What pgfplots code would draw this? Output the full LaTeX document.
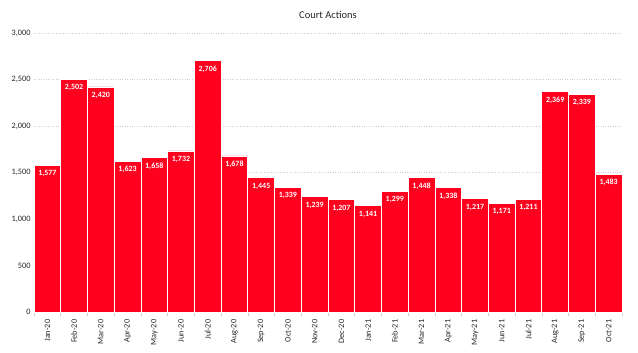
\documentclass[border=0pt]{standalone}
\usepackage{pgfplots}
\pgfplotsset{compat=1.18}
\usepackage{fontspec}
\setmainfont{Carlito}
\definecolor{barred}{RGB}{255,0,30}
\definecolor{gridc}{RGB}{205,205,205}
\begin{document}
\begin{tikzpicture}[x=1bp,y=1bp]
\path[use as bounding box] (0,0) rectangle (638,352);
\begin{axis}[
  at={(34bp,40bp)}, anchor=south west,
  scale only axis, width=588bp, height=279bp,
  xmin=-0.5, xmax=21.5, ymin=0, ymax=3000,
  ytick={0,500,...,3000},
  yticklabels={0,500,{1,000},{1,500},{2,000},{2,500},{3,000}},
  ymajorgrids, grid style={gridc, dotted, line width=0.6pt},
  axis y line*=left,
  y axis line style={draw=none},
  major y tick style={draw=none},
  axis x line*=bottom,
  x axis line style={gridc, line width=0.6pt, -},
  xtick=data,
  xticklabels={Jan-20,Feb-20,Mar-20,Apr-20,May-20,Jun-20,Jul-20,Aug-20,Sep-20,Oct-20,Nov-20,Dec-20,Jan-21,Feb-21,Mar-21,Apr-21,May-21,Jun-21,Jul-21,Aug-21,Sep-21,Oct-21},
  x tick label style={rotate=90, anchor=east, font=\fontsize{8.3}{9}\selectfont, text=black!85},
  major x tick style={draw=none},
  minor xtick={-0.5,0.5,...,21.5},
  minor x tick style={gridc, line width=0.6pt},
  minor tick length=4bp,
  xtick align=outside,
  y tick label style={font=\fontsize{8.3}{9}\selectfont, text=black!85},
  /pgf/number format/assume math mode=true,
  /pgf/number format/1000 sep={,},
  scaled y ticks=false,
  clip=false,
]
\addplot[ybar, bar width=1, fill=barred, draw=white, line width=0.8pt,
  nodes near coords,
  every node near coord/.append style={anchor=north, yshift=-1.5bp, text=white, font=\fontsize{8}{9}\selectfont\bfseries},
] coordinates {
(0,1577) (1,2502) (2,2420) (3,1623) (4,1658) (5,1732) (6,2706) (7,1678)
(8,1445) (9,1339) (10,1239) (11,1207) (12,1141) (13,1299) (14,1448) (15,1338)
(16,1217) (17,1171) (18,1211) (19,2369) (20,2339) (21,1483)
};
\end{axis}
\node[font=\fontsize{10.5}{12}\selectfont, text=black!85] at (328,337) {Court Actions};
\end{tikzpicture}
\end{document}
